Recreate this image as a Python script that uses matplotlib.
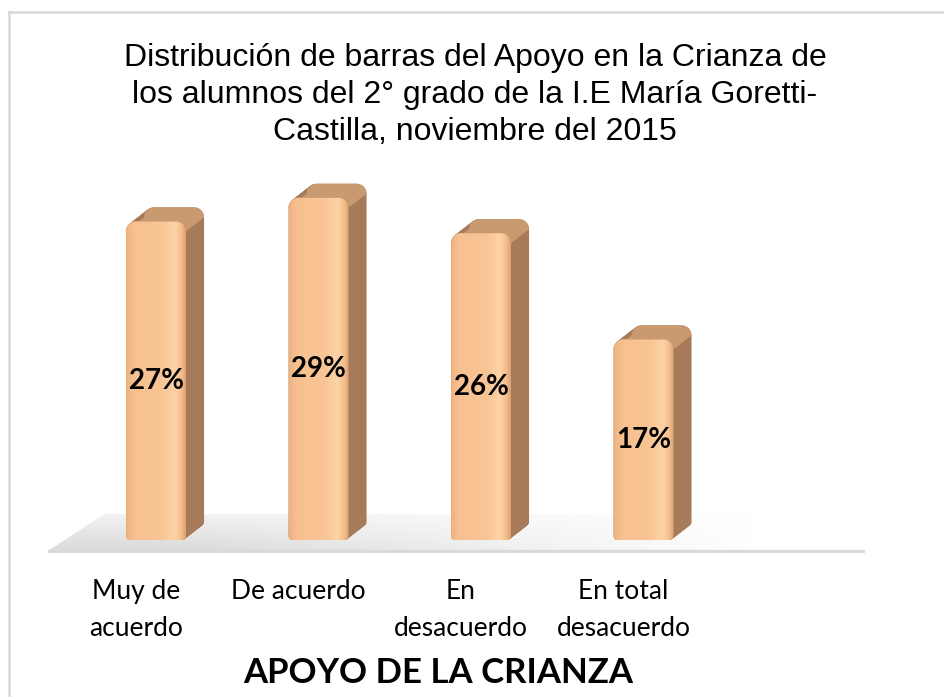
import numpy as np
import matplotlib.pyplot as plt
import matplotlib
from matplotlib.patches import Polygon
from matplotlib.lines import Line2D
from matplotlib.colors import LinearSegmentedColormap

categories = ["Muy de\nacuerdo", "De acuerdo", "En\ndesacuerdo", "En total\ndesacuerdo"]
values = [27, 29, 26, 17]
labels = ["27%", "29%", "26%", "17%"]
title = ("Distribución de barras del Apoyo en la Crianza de\n"
         "los alumnos del 2° grado de la I.E María Goretti-\n"
         "Castilla, noviembre del 2015")
xlabel = "APOYO DE LA CRIANZA"

W, H = 945, 697
fig = plt.figure(figsize=(W / 100, H / 100), dpi=100)

# axes placed in pixel terms: 162.5 px per category, 11.8 px per percent
ax = fig.add_axes([48 / W, (H - 553) / H, 817 / W, (553 - 160) / H])
ax.set_xlim(-0.665, 4.363)
ax.set_ylim(-1.1, 32.2)
ax.axis("off")

px_x = 1 / 162.5
px_y = 1 / 11.8
bw = 60 * px_x          # front face width
dx, dy = 18 * px_x, 14 * px_y   # depth offset
rx, ry = 10 * px_x, 10 * px_y   # corner rounding


def rounded(x0, y0, w, h, n=12):
    # rounded rectangle, small radius at the bottom, larger at the top
    t = np.linspace(0, np.pi / 2, n)
    sx, sy = 4 * px_x, 4 * px_y
    pts = list(zip(x0 + sx - sx * np.cos(t), y0 + sy - sy * np.sin(t)))
    pts += list(zip(x0 + w - sx + sx * np.sin(t), y0 + sy - sy * np.cos(t)))
    pts += list(zip(x0 + w - rx + rx * np.cos(t), y0 + h - ry + ry * np.sin(t)))
    pts += list(zip(x0 + rx - rx * np.sin(t), y0 + h - ry + ry * np.cos(t)))
    return np.array(pts)


def top_arc(x0, h, n=12):
    t = np.linspace(0, np.pi / 2, n)
    a = list(zip(x0 + rx - rx * np.cos(t), h - ry + ry * np.sin(t)))
    b = list(zip(x0 + bw - rx + rx * np.sin(t), h - ry + ry * np.cos(t)))
    return np.array(a + b)


# floor shadow with gradient
fl_front, fl_back = -0.93, 2.2
floor = Polygon([(-0.665, fl_front), (4.363, fl_front), (4.363 + 0.25, fl_back), (-0.32, fl_back)],
                closed=True, facecolor="none", edgecolor="none")
ax.add_patch(floor)
gx = np.linspace(0, 1, 200)
gy = np.linspace(0, 1, 50)
GX, GY = np.meshgrid(gx, gy)
alpha = np.clip(1.25 - 1.5 * GX, 0, 1) * (0.35 + 0.65 * (1 - GY))
img = np.zeros((50, 200, 4))
img[..., :3] = 0.82
img[..., 3] = alpha * 0.8
im = ax.imshow(img, extent=[-0.665, 4.6, fl_front, fl_back], origin="lower",
               aspect="auto", zorder=1, interpolation="bilinear")
im.set_clip_path(floor)
ax.axhline(fl_front, color="#d9d9d9", lw=2.4, zorder=2)

front_cmap = LinearSegmentedColormap.from_list(
    "front", [(0, "#eeb27e"), (0.12, "#f7c090"), (0.6, "#f9c594"),
              (0.82, "#fdd3a6"), (0.93, "#f3bd8c"), (1, "#dda172")])

for i, v in enumerate(values):
    x0 = i - bw / 2
    # extrusion (side colour)
    for t in np.linspace(1, 0, 25):
        ax.add_patch(Polygon(rounded(x0 + t * dx, t * dy, bw, v), closed=True,
                             facecolor="#a77b5a", edgecolor="none", zorder=3))
    # top cap
    fa = top_arc(x0, v)
    ba = top_arc(x0 + dx, v + dy)
    ax.add_patch(Polygon(np.vstack([fa, ba[::-1]]), closed=True,
                         facecolor="#c99a70", edgecolor="none", zorder=4))
    # front face with gradient
    front = Polygon(rounded(x0, 0, bw, v), closed=True, facecolor="none",
                    edgecolor="none", zorder=5)
    ax.add_patch(front)
    grad = ax.imshow(np.linspace(0, 1, 100)[None, :], cmap=front_cmap,
                     extent=[x0, x0 + bw, 0, v], aspect="auto", zorder=5)
    grad.set_clip_path(front)
    ax.text(i, v / 2, labels[i], ha="center", va="center", fontsize=20,
            fontweight="bold", family="Lato", zorder=6)
    ax.text(i - 20 * px_x, -3.3, categories[i], ha="center", va="top",
            fontsize=19, family="Lato", linespacing=1.62, clip_on=False)

ax.set_xlim(-0.665, 4.363)
ax.set_ylim(-1.1, 32.2)

fig.text(475 / W, 1 - 95 / H, title, ha="center", va="center", fontsize=23,
         family="Liberation Sans", linespacing=1.32)
fig.text(438 / W, 1 - 673 / H, xlabel, ha="center", va="center", fontsize=25,
         fontweight="bold", family="Lato")

# chart frame
fig.add_artist(Line2D([9 / W, 9 / W], [0, 1 - 12 / H], color="#d9d9d9", lw=1.8))
fig.add_artist(Line2D([9 / W, 1], [1 - 12 / H, 1 - 12 / H], color="#d9d9d9", lw=1.8))

plt.savefig("out.png", dpi=100)
